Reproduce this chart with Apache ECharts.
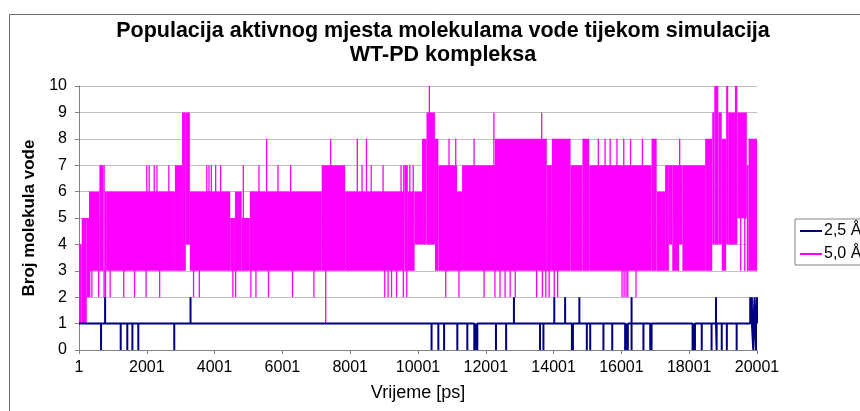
<!DOCTYPE html>
<html>
<head>
<meta charset="utf-8">
<script src="https://cdn.jsdelivr.net/npm/echarts@6/dist/echarts.min.js"></script>
<style>
  html, body { margin: 0; padding: 0; background: #fff; }
  #chart { width: 860px; height: 411px; }
</style>
</head>
<body>
<div id="chart"></div>
<script>
// tick labels on the time axis (ps)
const xTicks = [1, 2001, 4001, 6001, 8001, 10001, 12001, 14001, 16001, 18001, 20001];

const magStart = [0, 80, 230, 295, 325, 600, 720, 760, 800, 2830, 3040, 3150, 3270, 4460, 4600, 4800, 5040,
  7160, 7850, 9600, 9700, 9900, 10120, 10250, 10500, 10600, 11150, 11300, 12270, 13800, 13950, 14500, 14850,
  15050, 16890, 17040, 17290, 17400, 17500, 17700, 17800, 18470, 18680, 18740, 18860, 18960, 19090, 19150,
  19350, 19420, 19700, 19750];
const magLo = [1, 1, 2, 2, 3, 3, 2, 2, 3, 3, 3, 4, 3, 3, 3, 3, 3,
  3, 3, 3, 3, 4, 4, 4, 3, 3, 3, 3, 3, 3, 3, 3, 3,
  3, 3, 3, 3, 4, 3, 4, 3, 3, 4, 4, 4, 3, 4, 4,
  4, 5, 3, 3];
const magHi = [4, 5, 5, 6, 6, 7, 7, 6, 6, 7, 9, 9, 6, 5, 6, 5, 6,
  7, 6, 7, 6, 6, 8, 9, 8, 7, 6, 7, 8, 7, 8, 7, 8,
  7, 8, 6, 7, 7, 7, 7, 7, 8, 9, 10, 9, 8, 10, 9,
  10, 9, 7, 8];
const magEnd = 20000;

// 5,0 Å: single-frame excursions out of the band [time, value]
const magSpikeT = [360, 560, 900, 1300, 1620, 1960, 2360, 3360, 3530, 4520, 4600, 5050, 5200, 5570, 6280, 6910,
  7260, 9000, 9100, 9200, 9350, 9550, 9650, 10800, 11190, 11930, 12250, 12400, 12550, 12700, 12850, 13480,
  13650, 13750, 13850, 14000, 14100, 16000, 16060, 16120, 16170, 16410, 19500, 19620,
  1980, 2050, 2200, 2280, 2630, 3750, 3815, 3884, 4012, 4159, 4828, 5290, 5850, 6225, 8330, 8600, 8950,
  9480, 9560, 9740, 9840,
  5516, 7405, 8190, 8460, 10896, 11094, 11635, 15300, 15500, 15650, 15850, 16050, 16250, 16600, 17700,
  12220, 13630, 10316];
const magSpikeV = [2, 2, 2, 2, 2, 2, 2, 2, 2, 2, 2, 2, 2, 2, 2, 2,
  1, 2, 2, 2, 2, 2, 2, 2, 2, 2, 2, 2, 2, 2, 2, 2,
  2, 2, 2, 2, 2, 2, 2, 2, 2, 2, 3, 3,
  7, 7, 7, 7, 7, 7, 7, 7, 7, 7, 7, 7, 7, 7, 7, 7, 7,
  7, 7, 7, 7,
  8, 8, 8, 8, 8, 8, 8, 8, 8, 8, 8, 8, 8, 8, 8,
  9, 9, 10];

// 2,5 Å: sits at 1, jumps to these values at these times
const navyBase = 1;
const navyT = [650, 770, 1230, 1425, 1575, 1750, 2810, 3290,
  10400, 10600, 10770, 11160, 11455, 11660, 11700, 11750, 12300, 12600, 12830,
  13600, 13700, 14020, 14340, 14540, 14570, 14760, 14980, 15080, 15470, 15730, 16110, 16150, 16190,
  16300, 16300, 16650, 16850, 16890,
  18100, 18130, 18170, 18370, 18660, 18790, 18810, 18960, 19110, 19400, 19800, 19850, 19890, 19930,
  19970, 20000];
const navyV = [0, 2, 0, 0, 0, 0, 0, 2,
  0, 0, 0, 0, 0, 0, 0, 0, 0, 0, 2,
  0, 0, 2, 2, 0, 0, 2, 0, 0, 0, 0, 0, 0, 0,
  0, 2, 0, 0, 0,
  0, 0, 0, 0, 0, 2, 0, 0, 0, 0, 2, 2, 0, 2,
  0, 2];

// build series data
const navyData = [[0, navyBase]];
navyT.forEach((t, i) => {
  navyData.push([t, navyBase], [t, navyV[i]], [t, navyBase]);
});
navyData.push([magEnd, navyBase]);

const bandData = magStart.map((t, i) => [t, i + 1 < magStart.length ? magStart[i + 1] : magEnd, magLo[i], magHi[i]]);
magSpikeT.forEach((t, i) => {
  const v = magSpikeV[i];
  bandData.push([t, t, Math.min(v, 5), Math.max(v, 5)]);
});

function renderBand(params, api) {
  const topLeft = api.coord([api.value(0), api.value(3)]);
  const botRight = api.coord([api.value(1), api.value(2)]);
  const w = Math.max(botRight[0] - topLeft[0], 1.3);
  return {
    type: 'rect',
    shape: { x: topLeft[0], y: topLeft[1], width: w, height: botRight[1] - topLeft[1] },
    style: { fill: '#FF00FF' }
  };
}

const FONT = 'Liberation Sans, Arial, sans-serif';
const chart = echarts.init(document.getElementById('chart'));

chart.setOption({
  animation: false,
  backgroundColor: '#fff',
  graphic: [
    { type: 'rect', left: 7, top: 12, shape: { width: 900, height: 500 },
      style: { fill: 'none', stroke: '#6d6d6d', lineWidth: 1 }, z: -1 },
    { type: 'text', x: 443, y: 31,
      style: { text: 'Populacija aktivnog mjesta molekulama vode tijekom simulacija', align: 'center', verticalAlign: 'middle',
        font: 'bold 21.5px ' + FONT, fill: '#000' } },
    { type: 'text', x: 443, y: 55,
      style: { text: 'WT-PD kompleksa', align: 'center', verticalAlign: 'middle',
        font: 'bold 21.5px ' + FONT, fill: '#000' } }
  ],
  grid: { left: 79, right: 103, top: 86, bottom: 61 },
  legend: {
    orient: 'vertical',
    left: 795, top: 219,
    padding: [4, 6, 3, 5],
    itemGap: 7,
    itemWidth: 22, itemHeight: 2,
    icon: 'rect',
    borderColor: '#808080', borderWidth: 1,
    backgroundColor: '#fff',
    textStyle: { fontFamily: FONT, fontSize: 16, color: '#000', padding: [0, 0, 0, -3] },
    data: ['2,5 Å', '5,0 Å']
  },
  xAxis: {
    type: 'value',
    min: 0, max: 20000, interval: 2000,
    name: 'Vrijeme [ps]',
    nameLocation: 'middle',
    nameGap: 34,
    nameTextStyle: { fontFamily: FONT, fontSize: 18, color: '#000' },
    axisLine: { lineStyle: { color: '#808080' } },
    axisTick: { show: true, length: 4, lineStyle: { color: '#808080' } },
    splitLine: { show: false },
    axisLabel: { fontFamily: FONT, fontSize: 16, color: '#000', margin: 10, formatter: v => String(xTicks[v / 2000]) }
  },
  yAxis: {
    type: 'value',
    min: 0, max: 10, interval: 1,
    name: 'Broj molekula vode',
    nameLocation: 'middle',
    nameGap: 41,
    nameTextStyle: { fontFamily: FONT, fontSize: 17, fontWeight: 'bold', color: '#000' },
    axisLine: { show: true, lineStyle: { color: '#808080' } },
    axisTick: { show: true, length: 4, lineStyle: { color: '#808080' } },
    splitLine: { lineStyle: { color: '#c0c0c0' } },
    axisLabel: { fontFamily: FONT, fontSize: 16, color: '#000', margin: 12 }
  },
  series: [
    {
      name: '2,5 Å',
      type: 'line',
      data: navyData,
      showSymbol: false,
      color: '#000080',
      lineStyle: { color: '#000080', width: 2 }
    },
    {
      name: '5,0 Å',
      type: 'custom',
      renderItem: renderBand,
      data: bandData,
      encode: { x: [0, 1], y: [2, 3] },
      clip: true,
      color: '#FF00FF',
      itemStyle: { color: '#FF00FF' }
    }
  ]
});
</script>
</body>
</html>
